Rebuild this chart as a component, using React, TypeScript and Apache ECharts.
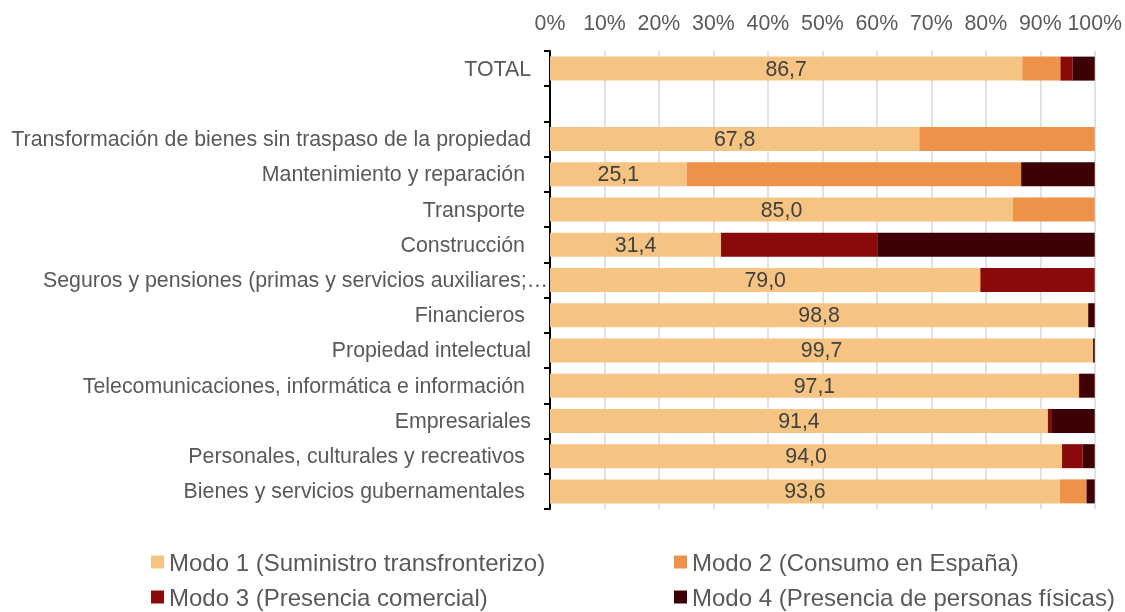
import React, { useEffect, useRef } from "react";
import * as echarts from "echarts";

const categories = [
  "TOTAL",
  "",
  "Transformación de bienes sin traspaso de la propiedad",
  "Mantenimiento y reparación ",
  "Transporte ",
  "Construcción ",
  "Seguros y pensiones (primas y servicios auxiliares;…",
  "Financieros ",
  "Propiedad intelectual",
  "Telecomunicaciones, informática e información ",
  "Empresariales",
  "Personales, culturales y recreativos ",
  "Bienes y servicios gubernamentales ",
];

const seriesNames = [
  "Modo 1 (Suministro transfronterizo)",
  "Modo 2 (Consumo en España)",
  "Modo 3 (Presencia comercial)",
  "Modo 4 (Presencia de personas físicas)",
];

const modo1 = [86.7, null, 67.8, 25.1, 85.0, 31.4, 79.0, 98.8, 99.7, 97.1, 91.4, 94.0, 93.6];
const modo2 = [7.0, null, 32.2, 61.4, 15.0, 0, 0, 0, 0, 0, 0, 0, 4.9];
const modo3 = [2.2, null, 0, 0, 0, 28.8, 21.0, 0, 0, 0.2, 0.6, 3.8, 0];
const modo4 = [4.1, null, 0, 13.5, 0, 39.8, 0, 1.2, 0.3, 2.7, 8.0, 2.2, 1.5];

const colors = ["#F5C482", "#ED9248", "#8A0A0A", "#3C0005"];

const FONT = "'Liberation Sans', Arial, sans-serif";

export default function App() {
  const ref = useRef<HTMLDivElement>(null);

  useEffect(() => {
    if (!ref.current) return;
    const chart = echarts.init(ref.current, undefined, { renderer: "svg" });
    const values = [modo1, modo2, modo3, modo4];
    const labelRich = (pad: number) => ({
      fontSize: 21.33,
      fontFamily: FONT,
      color: "#595959",
      padding: [0, pad, 0, 0],
    });
    chart.setOption({
      animation: false,
      color: colors,
      textStyle: { fontFamily: FONT },
      grid: { left: 550, right: 30, top: 51, bottom: 103, containLabel: false },
      xAxis: {
        type: "value",
        position: "top",
        min: 0,
        max: 100,
        interval: 10,
        axisLine: { show: false },
        axisTick: { show: false },
        splitLine: { show: true, lineStyle: { color: "#D9D9D9", width: 1.5 } },
        axisLabel: {
          formatter: "{value}%",
          color: "#595959",
          fontSize: 21.33,
          fontFamily: FONT,
          margin: 18,
        },
      },
      yAxis: {
        type: "category",
        inverse: true,
        data: categories,
        axisLine: { show: true, lineStyle: { color: "#000000", width: 2 } },
        axisTick: { show: true, length: 6, lineStyle: { color: "#000000", width: 2 } },
        splitLine: { show: false },
        axisLabel: {
          interval: 0,
          margin: 1,
          formatter: (v: string) => {
            if (v === "") return "";
            if (v.endsWith("…")) return `{c|${v}}`;
            if (v.endsWith(" ")) return `{b|${v.trim()}}`;
            return `{a|${v}}`;
          },
          rich: {
            a: labelRich(18),
            b: labelRich(24),
            c: labelRich(1),
          },
        },
      },
      legend: [
        {
          data: [seriesNames[0], seriesNames[2]],
          orient: "vertical",
          left: 151,
          top: 550,
          padding: 0,
          itemWidth: 13,
          itemHeight: 13,
          itemGap: 11,
          icon: "rect",
          textStyle: { color: "#595959", fontSize: 24, fontFamily: FONT },
        },
        {
          data: [seriesNames[1], seriesNames[3]],
          orient: "vertical",
          left: 674,
          top: 550,
          padding: 0,
          itemWidth: 13,
          itemHeight: 13,
          itemGap: 11,
          icon: "rect",
          textStyle: { color: "#595959", fontSize: 24, fontFamily: FONT },
        },
      ],
      series: seriesNames.map((name, i) => ({
        name,
        type: "bar",
        stack: "total",
        barWidth: 24,
        data: values[i],
        itemStyle: { color: colors[i] },
        label:
          i === 0
            ? {
                show: true,
                position: "inside",
                color: "#404040",
                fontSize: 21.33,
                fontFamily: FONT,
                formatter: (p: any) =>
                  p.value == null ? "" : Number(p.value).toFixed(1).replace(".", ","),
              }
            : { show: false },
      })),
    });
    return () => chart.dispose();
  }, []);

  return (
    <div
      ref={ref}
      style={{ position: "fixed", left: 0, top: 0, width: 1125, height: 612 }}
    />
  );
}
